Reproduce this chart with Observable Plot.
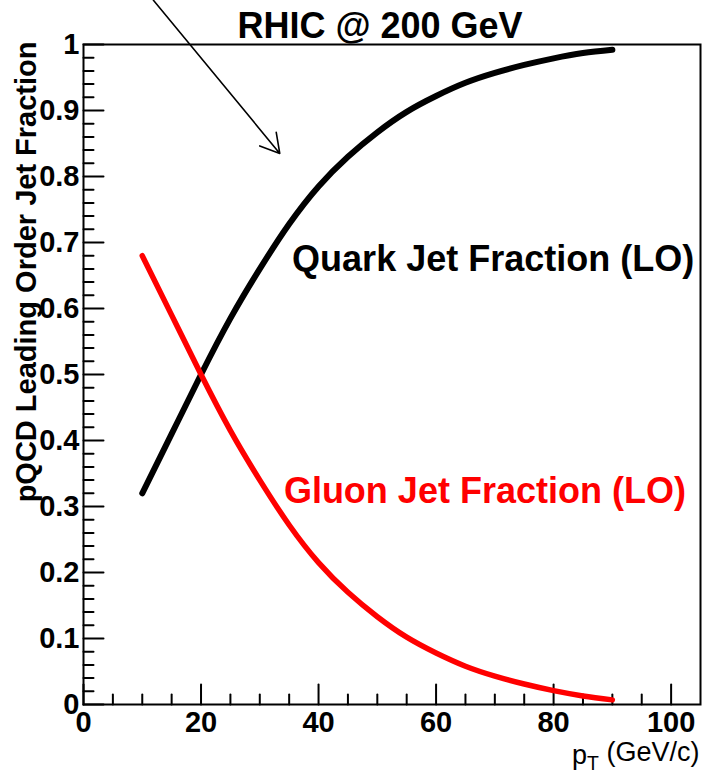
<!DOCTYPE html>
<html><head><meta charset="utf-8">
<script src="https://cdn.jsdelivr.net/npm/d3@7"></script>
<script src="https://cdn.jsdelivr.net/npm/@observablehq/plot@0.6"></script>
<style>html,body{margin:0;padding:0;background:#fff}</style>
</head><body><div id="chart"></div>
<script>
// ---- data ----
const pT    = [10, 15, 20, 25, 30, 35, 40, 45, 50, 55, 60, 65, 70, 75, 80, 85, 90];
const quark = [0.32, 0.41, 0.50, 0.585, 0.66, 0.728, 0.785, 0.83, 0.867, 0.898, 0.922, 0.942, 0.957, 0.969, 0.979, 0.987, 0.992];
const gluon = [0.68, 0.59, 0.50, 0.415, 0.34, 0.272, 0.215, 0.17, 0.133, 0.102, 0.078, 0.058, 0.043, 0.031, 0.021, 0.013, 0.007];
const xMajorTicks = [0, 20, 40, 60, 80, 100];
const xMinorTicks = [5, 10, 15, 25, 30, 35, 45, 50, 55, 65, 70, 75, 85, 90, 95];
const yMajorTicks = [0, 0.1, 0.2, 0.3, 0.4, 0.5, 0.6, 0.7, 0.8, 0.9, 1];
const yTickLabels = ["0", "0.1", "0.2", "0.3", "0.4", "0.5", "0.6", "0.7", "0.8", "0.9", "1"];
const yMinorTicks = [0.02,0.04,0.06,0.08,0.12,0.14,0.16,0.18,0.22,0.24,0.26,0.28,0.32,0.34,0.36,0.38,
                     0.42,0.44,0.46,0.48,0.52,0.54,0.56,0.58,0.62,0.64,0.66,0.68,0.72,0.74,0.76,0.78,
                     0.82,0.84,0.86,0.88,0.92,0.94,0.96,0.98];
const titleText = "RHIC @ 200 GeV";
const yAxisTitle = "pQCD Leading Order Jet Fraction";
const xAxisTitle = "pT (GeV/c)";
const quarkLabel = "Quark Jet Fraction (LO)";
const gluonLabel = "Gluon Jet Fraction (LO)";
// annotation arrow (data coordinates)
const arrowFrom = [11.9, 1.067];
const arrowTo   = [33.4, 0.835];

// ---- build ----
const quarkData = pT.map((x, i) => ({x, y: quark[i]}));
const gluonData = pT.map((x, i) => ({x, y: gluon[i]}));
const tickShape = {draw(ctx, l) { ctx.moveTo(0, 0); ctx.lineTo(0, -l); }};

const chart = Plot.plot({
  width: 702, height: 775,
  marginLeft: 83, marginRight: 2, marginTop: 44, marginBottom: 71,
  x: {domain: [0, 105]},
  y: {domain: [0, 1]},
  style: {fontFamily: "'Liberation Sans', Arial, sans-serif", background: "white", overflow: "visible", color: "black"},
  marks: [
    Plot.frame({stroke: "black", strokeWidth: 2}),
    Plot.axisX(xMajorTicks, {tickSize: 0, tickPadding: 7, fontSize: 29, fontWeight: "bold", label: null}),
    Plot.axisY(yMajorTicks, {tickSize: 0, tickPadding: 4, fontSize: 29, fontWeight: "bold", label: null,
      tickFormat: (d) => yTickLabels[yMajorTicks.indexOf(d)]}),
    Plot.vector(xMajorTicks, {x: d => d, y: () => 0, length: 20, rotate: 0, anchor: "start", shape: tickShape, stroke: "black", strokeWidth: 2}),
    Plot.vector(xMinorTicks, {x: d => d, y: () => 0, length: 10, rotate: 0, anchor: "start", shape: tickShape, stroke: "black", strokeWidth: 2}),
    Plot.vector(yMajorTicks, {x: () => 0, y: d => d, length: 20, rotate: 90, anchor: "start", shape: tickShape, stroke: "black", strokeWidth: 2}),
    Plot.vector(yMinorTicks, {x: () => 0, y: d => d, length: 10, rotate: 90, anchor: "start", shape: tickShape, stroke: "black", strokeWidth: 2}),
    Plot.line(quarkData, {x: "x", y: "y", stroke: "black", strokeWidth: 6, curve: "natural"}),
    Plot.line(gluonData, {x: "x", y: "y", stroke: "#ff0000", strokeWidth: 5.5, curve: "natural"}),
    Plot.arrow([{}], {x1: () => arrowFrom[0], y1: () => arrowFrom[1], x2: () => arrowTo[0], y2: () => arrowTo[1],
      stroke: "black", strokeWidth: 1.6, headLength: 20, headAngle: 60}),
    Plot.text([quarkLabel], {x: () => 35.5, y: () => 0.6565, textAnchor: "start", lineAnchor: "bottom",
      fontSize: 36, fontWeight: "bold", fill: "black"}),
    Plot.text([gluonLabel], {x: () => 34.1, y: () => 0.305, textAnchor: "start", lineAnchor: "bottom",
      fontSize: 36, fontWeight: "bold", fill: "#ff0000"}),
    Plot.text([titleText], {frameAnchor: "top", dx: -12, dy: -7, lineAnchor: "bottom",
      fontSize: 36, fontWeight: "bold", fill: "black"}),
    Plot.text([yAxisTitle], {frameAnchor: "top-left", rotate: -90, textAnchor: "end", lineAnchor: "middle",
      dx: -57, dy: -3, fontSize: 29, fontWeight: "bold", fill: "black"}),
    Plot.text([xAxisTitle], {frameAnchor: "bottom-right", textAnchor: "end", lineAnchor: "bottom",
      dx: -1, dy: 59, fontSize: 27, fill: "black"})
  ]
});
document.getElementById("chart").appendChild(chart);

// subscript T in the x-axis title
d3.select(chart).selectAll("text").filter(function () { return this.textContent === xAxisTitle; })
  .each(function () {
    const t = d3.select(this);
    t.text(null);
    t.append("tspan").text("p");
    t.append("tspan").attr("dy", "0.35em").attr("font-size", "0.72em").text("T");
    t.append("tspan").attr("dy", "-0.35em").text(" (GeV/c)");
  });
</script>
</body></html>
